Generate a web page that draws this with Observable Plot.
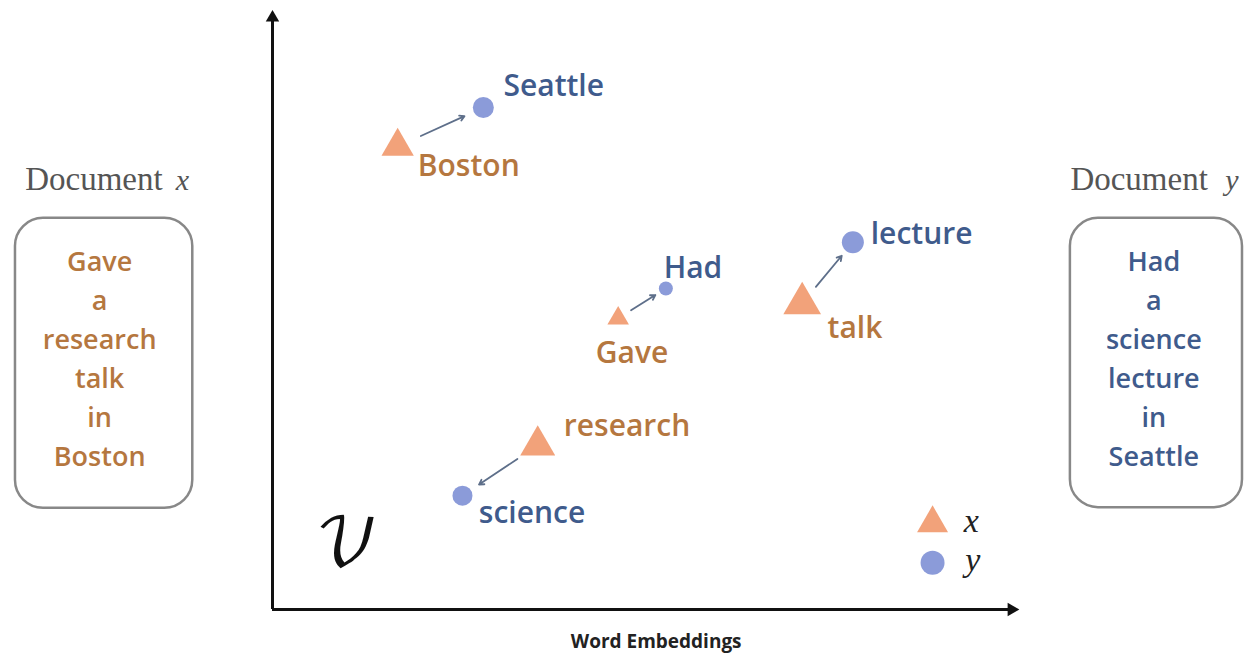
<!DOCTYPE html>
<html>
<head>
<meta charset="utf-8">
<script src="https://cdn.jsdelivr.net/npm/d3@7"></script>
<script src="https://cdn.jsdelivr.net/npm/@observablehq/plot@0.6"></script>
<style>
  html, body { margin: 0; padding: 0; background: #fff; }
  #chart svg { display: block; }
</style>
</head>
<body>
<div id="chart"></div>
<script>
// ---- data (embedding space units, axes run 0..10) ----
const wordsX = ["Boston", "Gave", "talk", "research"];          // document x words
const posX_x = [1.68, 4.64, 7.11, 3.56];
const posX_y = [7.73, 4.86, 5.11, 2.74];
const sizeX  = [12, 8, 14, 13];

const wordsY = ["Seattle", "Had", "lecture", "science"];         // document y words
const posY_x = [2.83, 5.28, 7.79, 2.55];
const posY_y = [8.38, 5.36, 6.13, 1.90];
const sizeY  = [10.5, 7, 11, 10];

// label anchor (start of text, baseline)
const labelX_x = [1.95, 4.34, 7.45, 3.91];
const labelX_y = [7.23, 4.12, 4.54, 2.90];
const labelY_x = [3.10, 5.25, 8.03, 2.77];
const labelY_y = [8.58, 5.54, 6.11, 1.44];

// transport pairs (x word -> y word)
const pairs = [["Boston", "Seattle"], ["Gave", "Had"], ["talk", "lecture"], ["research", "science"]];

const docX = ["Gave", "a", "research", "talk", "in", "Boston"];
const docY = ["Had", "a", "science", "lecture", "in", "Seattle"];
const docTitles = ["Document", "Document"];
const docVars = ["x", "y"];
const legendKeys = ["x", "y"];
const axisLabel = "Word Embeddings";
const spaceLabel = "\u{1D4B1}";

// ---- build tables ----
const ptsX = wordsX.map((w, i) => ({word: w, x: posX_x[i], y: posX_y[i], r: sizeX[i], lx: labelX_x[i], ly: labelX_y[i]}));
const ptsY = wordsY.map((w, i) => ({word: w, x: posY_x[i], y: posY_y[i], r: sizeY[i], lx: labelY_x[i], ly: labelY_y[i]}));
const lookup = new Map([...ptsX, ...ptsY].map(d => [d.word, d]));
const t0 = 0.27, t1 = 0.78;
const arrows = pairs.map(([a, b]) => {
  const p = lookup.get(a), q = lookup.get(b);
  return {
    x1: p.x + (q.x - p.x) * t0, y1: p.y + (q.y - p.y) * t0,
    x2: p.x + (q.x - p.x) * t1, y2: p.y + (q.y - p.y) * t1
  };
});

const ORANGE_FILL = "#f2a27a";
const BLUE_FILL = "#8b9bd9";
const ORANGE_TEXT = "#b5773f";
const BLUE_TEXT = "#3f5b8c";
const SANS = "Open Sans, sans-serif";
const SERIF = "Liberation Serif, DejaVu Serif, serif";

// side boxes (in same units, outside the axes)
const boxes = [
  {x1: -3.45, x2: -1.07, y1: 1.69, y2: 6.53, cx: -2.32, text: docX.join("\n"), color: ORANGE_TEXT, tx: -3.32, vx: -1.30, title: docTitles[0], v: docVars[0]},
  {x1: 10.71, x2: 13.02, y1: 1.70, y2: 6.53, cx: 11.83, text: docY.join("\n"), color: BLUE_TEXT, tx: 10.71, vx: 12.79, title: docTitles[1], v: docVars[1]}
];

const legend = [
  {key: legendKeys[0], symbol: "triangle", fill: ORANGE_FILL, x: 8.86, y: 1.44, tx: 9.28, ty: 1.29, r: 11.5},
  {key: legendKeys[1], symbol: "circle", fill: BLUE_FILL, x: 8.86, y: 0.78, tx: 9.30, ty: 0.65, r: 12}
];

const chart = Plot.plot({
  width: 1248,
  height: 658,
  marginLeft: 272,
  marginRight: 231,
  marginTop: 10,
  marginBottom: 49,
  x: {domain: [0, 10], axis: null},
  y: {domain: [0, 10], axis: null},
  r: {type: "identity"},
  style: {background: "#fff", overflow: "visible"},
  marks: [
    // axes
    Plot.ruleX([0], {y1: 0, y2: 9.85, stroke: "#111", strokeWidth: 3}),
    Plot.ruleY([0], {x1: 0, x2: 9.9, stroke: "#111", strokeWidth: 3}),
    Plot.dot([{x: 0, y: 9.88}], {x: "x", y: "y", symbol: "triangle", r: 5, fill: "#111", stroke: "none"}),
    Plot.dot([{x: 9.92, y: 0}], {x: "x", y: "y", symbol: "triangle", r: 5, fill: "#111", stroke: "none", rotate: 90}),
    Plot.text([axisLabel], {x: 5.15, y: -0.65, text: d => d, fontFamily: SANS, fontWeight: 700, fontSize: 19, fill: "#222", lineAnchor: "bottom"}),
    Plot.text([spaceLabel], {x: 1.0, y: 1.09, text: d => d, fontFamily: "DejaVu Math TeX Gyre, DejaVu Serif, DejaVu Sans, serif", fontSize: 66, fill: "#111", lineAnchor: "middle"}),

    // transport arrows
    Plot.arrow(arrows, {x1: "x1", y1: "y1", x2: "x2", y2: "y2", stroke: "#5e6f8a", strokeWidth: 1.8, headLength: 4.5}),

    // points
    Plot.dot(ptsX, {x: "x", y: "y", r: "r", symbol: "triangle", fill: ORANGE_FILL, stroke: "none"}),
    Plot.dot(ptsY, {x: "x", y: "y", r: "r", symbol: "circle", fill: BLUE_FILL, stroke: "none"}),
    Plot.text(ptsX, {x: "lx", y: "ly", text: "word", textAnchor: "start", lineAnchor: "bottom", fontFamily: SANS, fontWeight: 600, fontSize: 30, fill: ORANGE_TEXT}),
    Plot.text(ptsY, {x: "lx", y: "ly", text: "word", textAnchor: "start", lineAnchor: "bottom", fontFamily: SANS, fontWeight: 600, fontSize: 30, fill: BLUE_TEXT}),

    // legend
    Plot.dot(legend, {x: "x", y: "y", symbol: "symbol", fill: "fill", r: "r", stroke: "none"}),
    Plot.text(legend, {x: "tx", y: "ty", text: "key", textAnchor: "start", lineAnchor: "bottom", fontFamily: SERIF, fontStyle: "italic", fontSize: 34, fill: "#222"}),

    // document boxes
    Plot.rect(boxes, {x1: "x1", x2: "x2", y1: "y1", y2: "y2", fill: "#fff", stroke: "#888", strokeWidth: 2.5, rx: 28}),
    Plot.text(boxes, {x: "cx", y: 6.11, text: "text", fill: "color", lineAnchor: "top", lineHeight: 1.444, fontFamily: SANS, fontWeight: 600, fontSize: 27}),
    Plot.text(boxes, {x: "tx", y: 7.0, text: "title", textAnchor: "start", lineAnchor: "bottom", fontFamily: SERIF, fontSize: 33, fill: "#555"}),
    Plot.text(boxes, {x: "vx", y: 7.0, text: "v", textAnchor: "start", lineAnchor: "bottom", fontFamily: SERIF, fontStyle: "italic", fontSize: 30, fill: "#555"})
  ]
});
chart.setAttribute("font-family", SANS);
document.getElementById("chart").appendChild(chart);
</script>
</body>
</html>
